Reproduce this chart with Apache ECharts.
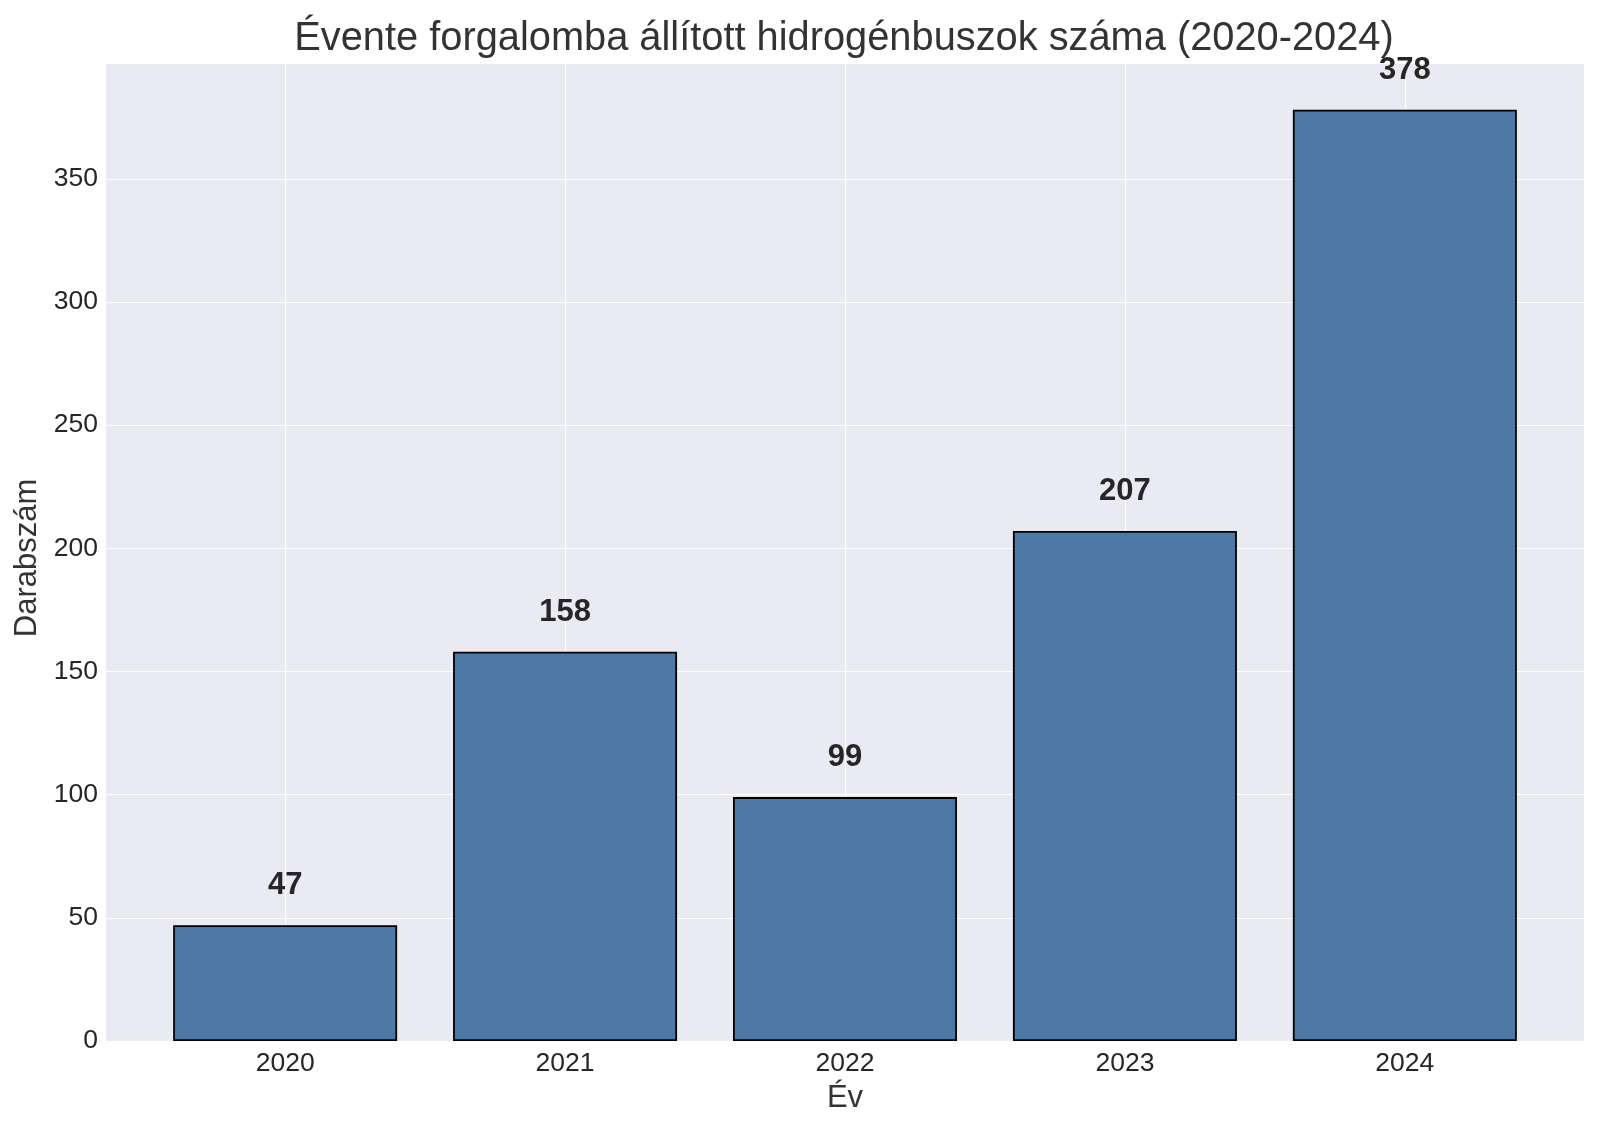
<!DOCTYPE html>
<html>
<head>
<meta charset="utf-8">
<script src="https://cdn.jsdelivr.net/npm/echarts@6/dist/echarts.min.js"></script>
<style>html,body{margin:0;padding:0;background:#fff;}#c{width:1599px;height:1128px;}</style>
</head>
<body>
<div id="c"></div>
<script>
const years = ['2020', '2021', '2022', '2023', '2024'];
const counts = [47, 158, 99, 207, 378];
const yTicks = [0, 50, 100, 150, 200, 250, 300, 350];

const FONT = '"Liberation Sans", Arial, sans-serif';
const chart = echarts.init(document.getElementById('c'));
const barData = counts.map((v, i) => [i, v]);

chart.setOption({
  animation: false,
  backgroundColor: '#ffffff',
  title: {
    text: 'Évente forgalomba állított hidrogénbuszok száma (2020-2024)',
    left: 839,
    textAlign: 'center',
    top: 14,
    textStyle: { fontFamily: FONT, fontSize: 39.8, fontWeight: 'normal', color: '#333333' }
  },
  grid: {
    left: 106, right: 15, top: 63, bottom: 87,
    show: true, backgroundColor: '#eaeaf2', borderWidth: 0
  },
  xAxis: {
    type: 'value',
    min: -0.64, max: 4.64,
    name: 'Év',
    nameLocation: 'middle',
    nameGap: 42,
    nameTextStyle: { fontFamily: FONT, fontSize: 31, color: '#333333' },
    axisLine: { show: false },
    axisTick: { show: false },
    splitLine: { show: false },
    axisLabel: {
      customValues: [0, 1, 2, 3, 4],
      formatter: v => years[Math.round(v)] || '',
      fontFamily: FONT, fontSize: 26.5, color: '#262626', margin: 9
    }
  },
  yAxis: {
    type: 'value',
    min: 0, max: 397, interval: 50,
    name: 'Darabszám',
    nameLocation: 'middle',
    nameGap: 60,
    nameTextStyle: { fontFamily: FONT, fontSize: 31, color: '#333333', padding: [0, 12, 0, 0] },
    axisLine: { show: false },
    axisTick: { show: false },
    splitLine: { show: true, lineStyle: { color: '#ffffff', width: 1 } },
    axisLabel: {
      formatter: v => (yTicks.indexOf(v) >= 0 ? String(v) : ''),
      fontFamily: FONT, fontSize: 26.5, color: '#262626', margin: 8
    }
  },
  series: [
    {
      type: 'line',
      data: [],
      z: 1,
      silent: true,
      markLine: {
        z: 1,
        silent: true,
        symbol: 'none',
        label: { show: false },
        lineStyle: { color: '#ffffff', width: 1, type: 'solid' },
        data: years.map((y, i) => ({ xAxis: i }))
      }
    },
    {
      type: 'bar',
      z: 3,
      data: barData,
      barWidth: 224,
      itemStyle: { color: '#4e79a7', borderColor: '#000000', borderWidth: 1.8 },
      label: {
        show: true,
        position: 'top',
        distance: 24,
        fontFamily: FONT, fontSize: 31, fontWeight: 'bold', color: '#262626'
      }
    }
  ]
});
</script>
</body>
</html>
